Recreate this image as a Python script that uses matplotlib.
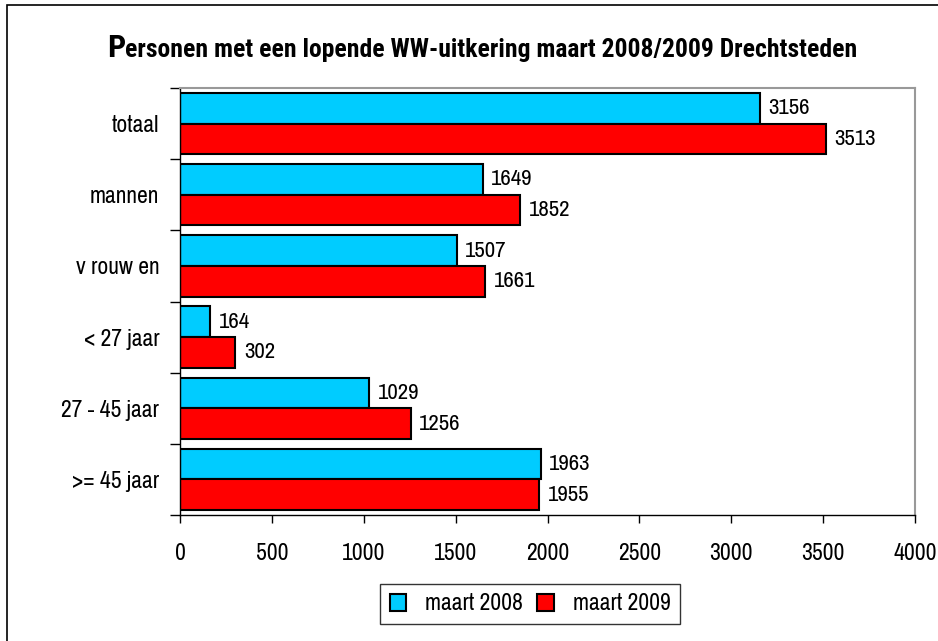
import matplotlib
matplotlib.use("Agg")
import matplotlib.pyplot as plt
import numpy as np
from matplotlib.patches import Rectangle
from matplotlib import font_manager

categories = ['totaal', 'mannen', 'v rouw en', '< 27 jaar', '27 - 45 jaar', '>= 45 jaar']
values_2008 = [3156, 1649, 1507, 164, 1029, 1963]
values_2009 = [3513, 1852, 1661, 302, 1256, 1955]
series_labels = ['maart 2008', 'maart 2009']
x_ticks = [0, 500, 1000, 1500, 2000, 2500, 3000, 3500, 4000]

# the original uses Arial Narrow; take the closest narrow face installed
names = {f.name for f in font_manager.fontManager.ttflist}
fam = 'Liberation Sans'
for cand in ('Liberation Sans Narrow', 'Arial Narrow', 'Archivo Narrow', 'PT Sans Narrow'):
    if cand in names:
        fam = cand
        break
title_fam = 'Roboto Condensed' if 'Roboto Condensed' in names else fam
plt.rcParams['font.family'] = [fam, 'DejaVu Sans']

W, H = 938, 641
fig = plt.figure(figsize=(W / 100, H / 100), dpi=100)
ax = fig.add_axes([180 / W, 1 - 515 / H, 735 / W, 427 / H])

n = len(categories)
y = np.arange(n)
h = 0.43
cyan = '#00CCFF'
red = '#FF0000'
b1 = ax.barh(y - h / 2, values_2008, h, color=cyan, edgecolor='black', linewidth=1.5, label=series_labels[0])
b2 = ax.barh(y + h / 2, values_2009, h, color=red, edgecolor='black', linewidth=1.5, label=series_labels[1])

for bars, vals in ((b1, values_2008), (b2, values_2009)):
    for rect, v in zip(bars, vals):
        ax.annotate(str(v), (v, rect.get_y() + rect.get_height() / 2), xytext=(6, 0),
                    textcoords='offset points', va='center', ha='left', fontsize=16.5)

ax.set_xlim(0, 4000)
ax.set_ylim(n - 0.5, -0.5)
ax.set_xticks(x_ticks)
ax.set_xticklabels([str(t) for t in x_ticks], fontsize=17)
ax.set_yticks(y)
ax.set_yticklabels(categories, fontsize=17)
ax.tick_params(axis='y', length=0, pad=15)
ax.set_yticks(np.arange(n + 1) - 0.5, minor=True)
ax.tick_params(axis='y', which='minor', length=7, width=1, direction='out')
ax.tick_params(axis='x', length=6, width=1, direction='out', pad=14)

for s in ('top', 'right'):
    ax.spines[s].set_color('#999999')
    ax.spines[s].set_linewidth(1.5)
for s in ('left', 'bottom'):
    ax.spines[s].set_color('black')
    ax.spines[s].set_linewidth(1)

# title with larger first letter, sized to span the same width as the original
fig.canvas.draw()
r = fig.canvas.get_renderer()
tp = fig.text(107 / W, 1 - 57 / H, 'P', fontsize=23, fontweight='bold', va='baseline', family=title_fam)
ext = tp.get_window_extent(r)
rest = fig.text(ext.x1 / W, 1 - 57 / H, 'ersonen met een lopende WW-uitkering maart 2008/2009 Drechtsteden',
                fontsize=15, fontweight='bold', va='baseline', family=title_fam)
w = rest.get_window_extent(r).width
rest.set_fontsize(15 * (855 - ext.x1) / w)

leg = fig.legend(handles=[b1, b2], labels=series_labels, loc='center',
                 bbox_to_anchor=(530 / W, 1 - 604 / H), ncol=2, fontsize=17,
                 frameon=True, fancybox=False, edgecolor='black', handlelength=0.7,
                 handleheight=0.7, handletextpad=0.8, columnspacing=0.6, borderpad=0.4)
leg.get_frame().set_linewidth(1)

fig.patches.append(Rectangle((7 / W, -0.1), 2, 1 - 5 / H + 0.1, transform=fig.transFigure,
                             fill=False, edgecolor='black', linewidth=1.2))

fig.savefig('out.png', dpi=100)
